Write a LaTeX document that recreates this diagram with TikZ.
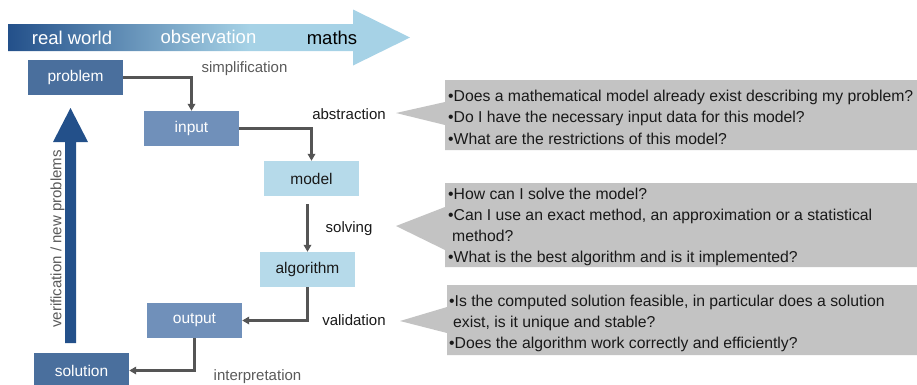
\documentclass[tikz,border=0pt]{standalone}
\usepackage{fontspec}
\setmainfont{Liberation Sans}
\usetikzlibrary{arrows.meta}
\definecolor{dkblue}{RGB}{35,80,138}
\definecolor{ltblue}{RGB}{166,210,230}
\definecolor{boxA}{RGB}{74,111,157}
\definecolor{boxB}{RGB}{112,144,186}
\definecolor{boxC}{RGB}{182,218,234}
\definecolor{callgray}{RGB}{195,195,195}
\definecolor{conncol}{RGB}{85,85,85}
\definecolor{lblgray}{RGB}{90,90,90}
\definecolor{txtdark}{RGB}{25,25,25}
\pgfdeclarehorizontalshading{topbar}{100bp}{color(0bp)=(dkblue); color(25bp)=(dkblue); color(55bp)=(ltblue); color(100bp)=(ltblue)}
\tikzset{
  boxstyle/.style={minimum width=95pt, minimum height=35pt, inner sep=0pt, font=\fontsize{15.5}{18}\selectfont},
  connector/.style={draw=conncol, line width=2.4pt, -{Triangle[length=7pt,width=7.5pt]}},
  lbl/.style={font=\fontsize{15}{18}\selectfont, anchor=base, inner sep=0pt, text=txtdark},
  ctext/.style={font=\fontsize{15.75}{18}\selectfont, anchor=base west, inner sep=0pt, text=txtdark},
  toptext/.style={font=\fontsize{18.5}{20}\selectfont, inner sep=0pt}
}
\begin{document}
\begin{tikzpicture}[x=1pt,y=-1pt]
\useasboundingbox (0,0) rectangle (917,384);
\clip (0,0) rectangle (917,384);
% top banner arrow
\shade[shading=topbar] (8,24) -- (353,24) -- (353,9.5) -- (410,37.5) -- (353,65.5) -- (353,51) -- (8,51) -- cycle;
\node[toptext, text=white] (rw) at (72,38) {real world};
\node[toptext, text=white] (obs) at (208.5,37) {observation};
\node[toptext, text=black] (maths) at (332,38) {maths};
% left arrow
\fill[dkblue] (65,343) -- (65,142) -- (53,142) -- (70.5,108) -- (88,142) -- (76,142) -- (76,343) -- cycle;
\node[rotate=90, font=\fontsize{15}{18}\selectfont, text=lblgray, inner sep=0pt] (verif) at (57.5,239) {verification / new problems};
% boxes
\node[boxstyle, fill=boxA, text=white] (problem) at (75.5,77.5) {problem};
\node[boxstyle, fill=boxB, text=white] (input) at (191.5,128.5) {input};
\node[boxstyle, fill=boxC, text=txtdark] (model) at (311.5,178.5) {model};
\node[boxstyle, fill=boxC, text=txtdark] (algorithm) at (307.5,269.5) {algorithm};
\node[boxstyle, fill=boxB, text=white] (output) at (194.5,320.5) {output};
\node[boxstyle, fill=boxA, text=white] (solution) at (81.5,370.5) {solution};
% connectors
\coordinate (mstart) at ([yshift=-8pt]model.south);
\draw[connector] (problem.east) -| (input.north);
\draw[connector] (input.east) -| (model.north);
\draw[connector] (mstart -| algorithm.north) -- (algorithm.north);
\draw[connector] (algorithm.south) |- (output.east);
\draw[connector] (output.south) |- (solution.east);
% labels
\node[lbl, text=lblgray] (simp) at (244.5,72) {simplification};
\node[lbl] (abs) at (349,119.5) {abstraction};
\node[lbl] (solv) at (349,232) {solving};
\node[lbl] (valid) at (354,325.5) {validation};
\node[lbl, text=lblgray] (interp) at (257.5,380) {interpretation};
% callouts
\fill[callgray] (445,80) -- (917,80) -- (917,150) -- (445,150) -- (445,125) -- (396,113) -- (445,102) -- cycle;
\fill[callgray] (445,183) -- (917,183) -- (917,267) -- (445,267) -- (445,250) -- (396,226) -- (445,207) -- cycle;
\fill[callgray] (447,285) -- (917,285) -- (917,355) -- (447,355) -- (447,333) -- (400,321) -- (447,307) -- cycle;
\node[ctext] (c1a) at (448,101) {•Does a mathematical model already exist describing my problem?};
\node[ctext] (c1b) at (448,122.5) {•Do I have the necessary input data for this model?};
\node[ctext] (c1c) at (448,144) {•What are the restrictions of this model?};
\node[ctext] (c2a) at (448,199) {•How can I solve the model?};
\node[ctext] (c2b) at (448,220) {•Can I use an exact method, an approximation or a statistical};
\node[ctext] (c2c) at (452,241) {method?};
\node[ctext] (c2d) at (448,262) {•What is the best algorithm and is it implemented?};
\node[ctext] (c3a) at (449,306) {•Is the computed solution feasible, in particular does a solution};
\node[ctext] (c3b) at (453,327.5) {exist, is it unique and stable?};
\node[ctext] (c3c) at (449,348.5) {•Does the algorithm work correctly and efficiently?};
\end{tikzpicture}
\end{document}
